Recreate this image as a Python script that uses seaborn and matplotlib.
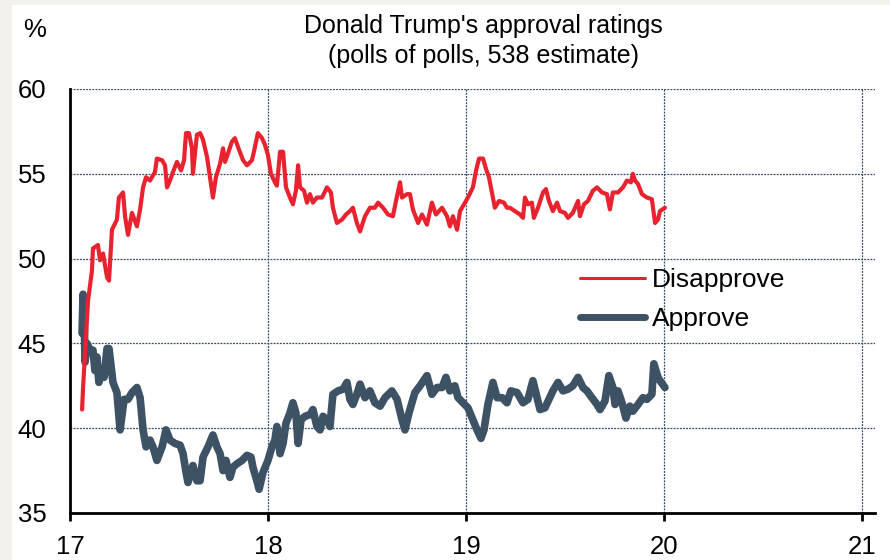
import numpy as np
import pandas as pd
import matplotlib
matplotlib.use("Agg")
import matplotlib.pyplot as plt
import seaborn as sns
from matplotlib.lines import Line2D
from matplotlib.patches import Rectangle

title = "Donald Trump's approval ratings\n(polls of polls, 538 estimate)"
unit_label = "%"
x_ticks = [17, 18, 19, 20, 21]
y_ticks = [35, 40, 45, 50, 55, 60]

disapprove_t = [17.061, 17.066, 17.091, 17.111, 17.116, 17.141, 17.152, 17.167, 17.187, 17.197,
                17.212, 17.237, 17.247, 17.268, 17.278, 17.293, 17.313, 17.338, 17.354, 17.369,
                17.384, 17.404, 17.429, 17.439, 17.465, 17.480, 17.490, 17.505, 17.520, 17.540,
                17.561, 17.576, 17.586, 17.601, 17.616, 17.621, 17.641, 17.657, 17.672, 17.692,
                17.702, 17.722, 17.737, 17.758, 17.773, 17.783, 17.798, 17.818, 17.833, 17.848,
                17.874, 17.894, 17.919, 17.929, 17.949, 17.970, 17.985, 18.000, 18.015, 18.035,
                18.045, 18.061, 18.076, 18.091, 18.111, 18.126, 18.141, 18.152, 18.162, 18.182,
                18.197, 18.212, 18.227, 18.247, 18.273, 18.298, 18.318, 18.328, 18.348, 18.374,
                18.394, 18.414, 18.429, 18.449, 18.465, 18.490, 18.515, 18.540, 18.556, 18.581,
                18.606, 18.631, 18.652, 18.667, 18.677, 18.702, 18.717, 18.732, 18.758, 18.778,
                18.803, 18.828, 18.848, 18.879, 18.904, 18.919, 18.934, 18.955, 18.970, 18.995,
                19.010, 19.035, 19.051, 19.066, 19.086, 19.101, 19.116, 19.131, 19.146, 19.167,
                19.192, 19.207, 19.222, 19.247, 19.273, 19.288, 19.298, 19.313, 19.333, 19.343,
                19.364, 19.389, 19.404, 19.419, 19.439, 19.460, 19.475, 19.500, 19.515, 19.540,
                19.566, 19.576, 19.596, 19.616, 19.641, 19.662, 19.687, 19.712, 19.727, 19.742,
                19.768, 19.793, 19.813, 19.833, 19.843, 19.854, 19.869, 19.889, 19.914, 19.939,
                19.955, 19.970, 19.980, 20.005]
disapprove_v = [41.1, 42.4, 47.5, 49.3, 50.6, 50.8, 49.9, 50.3, 48.9, 48.7,
                51.7, 52.3, 53.6, 53.9, 52.5, 51.4, 52.7, 51.9, 52.9, 54.2,
                54.8, 54.6, 55.1, 55.9, 55.8, 55.5, 54.2, 54.6, 55.1, 55.7,
                55.2, 55.8, 57.4, 57.4, 56.5, 55.0, 57.3, 57.4, 57.0, 56.0,
                55.2, 53.6, 54.8, 55.6, 56.5, 55.7, 56.2, 56.9, 57.1, 56.6,
                55.8, 55.5, 55.8, 56.3, 57.4, 57.1, 56.7, 56.1, 55.0, 54.5,
                54.3, 56.3, 56.3, 54.2, 53.6, 53.2, 54.0, 55.5, 54.2, 54.0,
                53.3, 53.8, 53.3, 53.6, 53.6, 54.2, 53.9, 53.0, 52.1, 52.3,
                52.6, 52.8, 53.0, 52.1, 51.6, 52.5, 53.0, 53.0, 53.3, 53.0,
                52.6, 52.5, 53.7, 54.5, 53.6, 53.8, 53.8, 52.9, 52.1, 52.6,
                52.0, 53.3, 52.6, 53.0, 52.5, 51.9, 52.5, 51.7, 52.8, 53.3,
                53.6, 54.2, 55.2, 55.9, 55.9, 55.3, 54.8, 53.9, 53.0, 53.4,
                53.3, 53.0, 53.0, 52.8, 52.6, 52.4, 53.6, 53.2, 53.3, 52.4,
                53.0, 53.9, 54.1, 53.4, 52.8, 53.3, 52.8, 52.7, 52.4, 52.7,
                53.4, 52.5, 53.2, 53.4, 54.0, 54.2, 53.9, 53.8, 52.9, 53.9,
                53.9, 54.2, 54.6, 54.5, 55.0, 54.6, 54.4, 53.8, 53.6, 53.5,
                52.1, 52.3, 52.8, 53.0]

approve_t = [17.061, 17.066, 17.071, 17.076, 17.086, 17.101, 17.116, 17.126, 17.136, 17.146,
             17.162, 17.172, 17.187, 17.197, 17.217, 17.237, 17.253, 17.273, 17.293, 17.313,
             17.338, 17.354, 17.369, 17.384, 17.404, 17.419, 17.439, 17.465, 17.485, 17.505,
             17.530, 17.556, 17.571, 17.586, 17.596, 17.621, 17.641, 17.657, 17.672, 17.697,
             17.722, 17.742, 17.758, 17.773, 17.788, 17.808, 17.823, 17.843, 17.869, 17.894,
             17.914, 17.924, 17.944, 17.955, 17.975, 18.000, 18.020, 18.035, 18.045, 18.061,
             18.076, 18.091, 18.111, 18.126, 18.141, 18.152, 18.167, 18.187, 18.212, 18.227,
             18.247, 18.263, 18.278, 18.298, 18.313, 18.328, 18.354, 18.379, 18.399, 18.414,
             18.429, 18.449, 18.465, 18.490, 18.515, 18.540, 18.566, 18.591, 18.626, 18.652,
             18.677, 18.692, 18.712, 18.742, 18.768, 18.803, 18.828, 18.854, 18.879, 18.899,
             18.919, 18.944, 18.960, 18.985, 19.010, 19.035, 19.056, 19.076, 19.091, 19.111,
             19.136, 19.157, 19.182, 19.207, 19.227, 19.258, 19.288, 19.313, 19.338, 19.359,
             19.374, 19.399, 19.419, 19.439, 19.465, 19.490, 19.515, 19.540, 19.566, 19.591,
             19.611, 19.636, 19.662, 19.677, 19.702, 19.722, 19.742, 19.753, 19.768, 19.788,
             19.808, 19.828, 19.843, 19.869, 19.894, 19.914, 19.939, 19.949, 19.970, 19.980,
             20.005]
approve_v = [45.6, 47.9, 46.8, 43.9, 45.0, 44.6, 44.6, 43.4, 44.2, 42.7,
             43.4, 43.0, 44.7, 44.7, 42.7, 42.1, 39.9, 41.7, 41.7, 42.1,
             42.4, 41.8, 39.9, 38.9, 39.3, 38.9, 38.1, 38.9, 39.9, 39.3,
             39.1, 39.0, 38.5, 37.4, 36.8, 37.8, 36.9, 36.9, 38.3, 38.9,
             39.6, 38.9, 38.5, 37.5, 38.1, 37.1, 37.7, 37.9, 38.1, 38.4,
             38.3, 37.7, 36.9, 36.4, 37.4, 38.1, 38.9, 39.3, 40.1, 38.5,
             39.1, 40.3, 40.9, 41.5, 40.9, 39.1, 40.5, 40.7, 40.8, 41.1,
             40.1, 39.9, 40.7, 40.5, 40.1, 42.0, 42.2, 42.3, 42.7, 41.7,
             41.4, 42.0, 42.6, 41.8, 42.2, 41.5, 41.3, 41.8, 42.2, 41.7,
             40.5, 39.9, 40.9, 42.1, 42.5, 43.1, 42.0, 42.4, 42.4, 43.0,
             42.2, 42.5, 41.8, 41.5, 41.2, 40.5, 39.9, 39.4, 39.9, 41.4,
             42.7, 41.8, 41.8, 41.5, 42.2, 42.1, 41.5, 41.7, 42.8, 41.8,
             41.1, 41.2, 41.7, 42.2, 42.7, 42.2, 42.3, 42.5, 43.0, 42.4,
             42.2, 41.8, 41.4, 41.1, 41.6, 43.1, 42.4, 41.4, 42.2, 41.5,
             40.6, 41.3, 41.0, 41.4, 41.8, 41.7, 42.0, 43.8, 43.0, 42.8,
             42.4]

red = "#e8232f"
navy = "#3e5266"
grid_c = "#34496a"

sns.set_style("white")
plt.rcParams["font.family"] = ["Liberation Sans", "DejaVu Sans"]
plt.rcParams["text.color"] = "black"
plt.rcParams["xtick.color"] = "black"
plt.rcParams["ytick.color"] = "black"
plt.rcParams["axes.labelcolor"] = "black"

fig = plt.figure(figsize=(8.9, 5.6), dpi=100)
fig.patch.set_facecolor("#f2f1ed")
fig.patches.append(Rectangle((12 / 890, 0), 1, 1 - 5 / 560, transform=fig.transFigure,
                             facecolor="white", edgecolor="none", zorder=-10))
ax = fig.add_axes([70 / 890, 47 / 560, 805 / 890, 424 / 560])
ax.set_facecolor("white")
ax.patch.set_alpha(0)

df_a = pd.DataFrame({"t": approve_t, "v": approve_v})
df_d = pd.DataFrame({"t": disapprove_t, "v": disapprove_v})
sns.lineplot(data=df_a, x="t", y="v", ax=ax, color=navy, linewidth=5.5,
             solid_capstyle="round", solid_joinstyle="round", zorder=3)
sns.lineplot(data=df_d, x="t", y="v", ax=ax, color=red, linewidth=3.0,
             solid_joinstyle="round", zorder=4)

ax.set_xlim(17, 21.066)
ax.set_ylim(35, 60)
ax.set_xticks(x_ticks)
ax.set_xticklabels([str(t) for t in x_ticks])
ax.set_yticks(y_ticks)
ax.set_yticklabels([str(t) for t in y_ticks])
ax.set_xlabel("")
ax.set_ylabel("")

for y in y_ticks[1:]:
    ax.axhline(y, color=grid_c, lw=0.9, ls=(0, (1.5, 1)), zorder=1)
for x in x_ticks[1:]:
    ax.axvline(x, color=grid_c, lw=0.9, ls=(0, (1.5, 1)), zorder=1)

for s in ["top", "right"]:
    ax.spines[s].set_visible(False)
for s in ["left", "bottom"]:
    ax.spines[s].set_color("black")
    ax.spines[s].set_linewidth(2.0)

ax.tick_params(axis="x", direction="out", length=6, width=2.0, color="black",
               labelcolor="black", labelsize=18.5, pad=10, bottom=True)
ax.tick_params(axis="y", length=0, labelsize=18.5, labelcolor="black", pad=17, left=False)

handles = [Line2D([], [], color=red, lw=2.2),
           Line2D([], [], color=navy, lw=5, solid_capstyle="round")]
leg = ax.legend(handles, ["Disapprove", "Approve"], loc="center left",
                bbox_to_anchor=(0.6335, 0.503), frameon=False, fontsize=19,
                handlelength=2.45, handletextpad=0.28, labelspacing=0.55,
                borderpad=0, borderaxespad=0)
for t in leg.get_texts():
    t.set_color("black")

fig.text(483.5 / 890, 1 - 41 / 560, title, ha="center", va="center",
         fontsize=18, linespacing=1.3, color="black")
fig.text(35 / 890, 1 - 30 / 560, unit_label, ha="center", va="center",
         fontsize=18.5, color="black")

fig.savefig("out.png", dpi=100, facecolor=fig.get_facecolor())
